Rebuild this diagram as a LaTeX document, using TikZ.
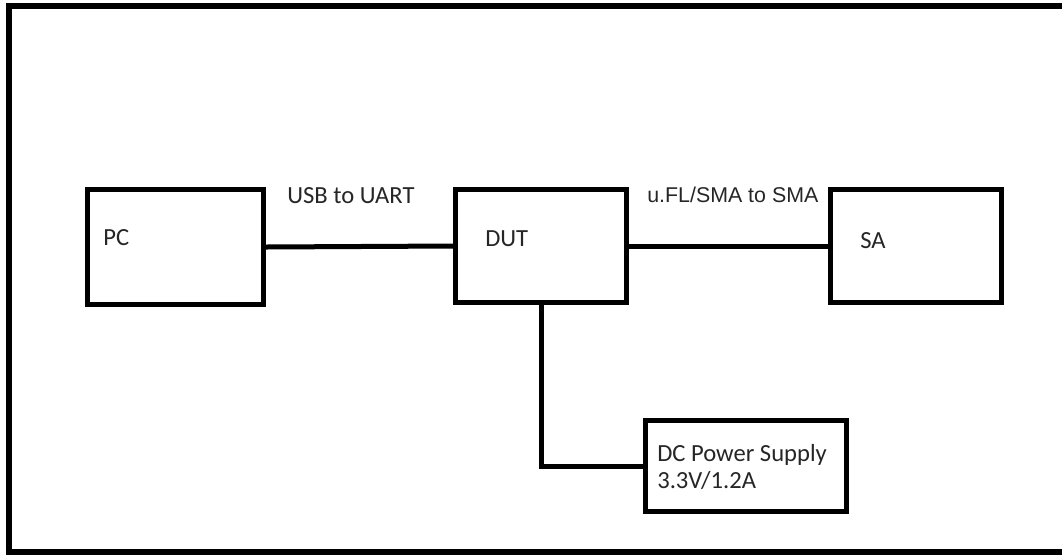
\documentclass[tikz,border=0pt]{standalone}
\usepackage{fontspec}
\setmainfont{Carlito}
\newfontfamily\arialfont{Liberation Sans}
\usetikzlibrary{calc}

\begin{document}
\begin{tikzpicture}[
        x=0.025cm, y=-0.025cm,
        % Stile
        frame/.style={draw=black, line width=0.15cm},
        unitbox/.style={draw=black, line width=0.125cm, fill=white, rectangle, inner sep=0pt},
        wire/.style={draw=black, line width=0.125cm},
        lbl/.style={inner sep=0pt, text=black!85, font=\fontsize{17.5}{18.6}\selectfont},
        cablelbl/.style={inner sep=0pt, text=black!85, font=\arialfont\fontsize{15.2}{17}\selectfont}
    ]

    \useasboundingbox (0,0) rectangle (1062,554);

    % Rahmen (rechte Seite liegt ausserhalb)
    \draw[frame] (1062,6) -- (9,6) -- (9,551.5) -- (1062,551.5);

    % ==========================================
    % Bloecke
    % ==========================================
    \node[unitbox, minimum width=176*0.025cm, minimum height=115*0.025cm] (pc)  at (175.5,247) {};
    \node[unitbox, minimum width=171*0.025cm, minimum height=113*0.025cm] (dut) at (541,246) {};
    \node[unitbox, minimum width=171*0.025cm, minimum height=113*0.025cm] (sa)  at (916,246) {};
    \node[unitbox, minimum width=201*0.025cm, minimum height=91*0.025cm]  (dcps) at (746,466) {};

    % Beschriftungen der Bloecke
    \node[lbl, anchor=base west] (pctext)  at (103,245) {PC};
    \node[lbl, anchor=base west] (duttext) at (485,246) {DUT};
    \node[lbl, anchor=base west] (satext)  at (860,248) {SA};
    \node[lbl, anchor=base west, align=left] (dctext) at (657,488) {DC Power Supply\\3.3V/1.2A};

    % ==========================================
    % Verbindungen
    % ==========================================
    \draw[wire] (pc.east) -- (dut.west);
    \draw[wire] (dut.east) -- (sa.west);
    \draw[wire] (dut.south) |- (dcps.west);

    % Kabelbezeichnungen
    \node[lbl, anchor=base west] (usblbl) at (287,203) {USB to UART};
    \node[cablelbl, anchor=base west] (rflbl) at (647,202) {u.FL/SMA to SMA};

\end{tikzpicture}
\end{document}
